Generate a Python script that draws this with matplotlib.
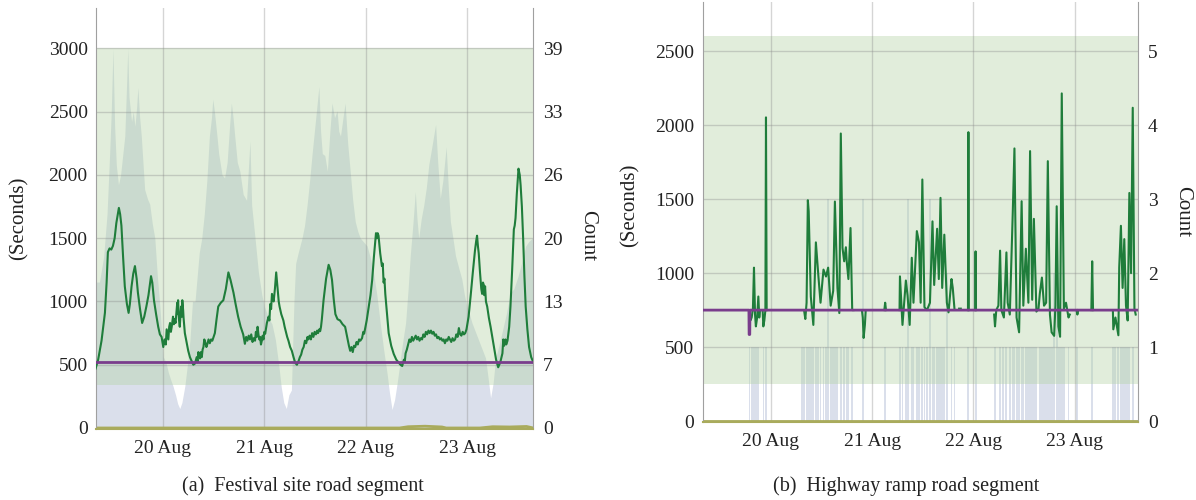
import numpy as np
import matplotlib
matplotlib.use("Agg")
import matplotlib.pyplot as plt

plt.rcParams['font.family'] = ['Liberation Serif', 'DejaVu Serif']

# hours counted from 20 Aug 00:00
day_ticks = [0, 24, 48, 72]
day_labels = ['20 Aug', '21 Aug', '22 Aug', '23 Aug']

# ---- (a) festival site road segment ----
# travel time (seconds), read as (hour, value) pairs
a_line = [(-15.9, 470), (-15.3, 540), (-14.5, 690), (-13.7, 910), (-13.3, 1150), (-13.0, 1390),
          (-12.6, 1420), (-12.2, 1410), (-11.8, 1440), (-11.4, 1500), (-11.0, 1620), (-10.6, 1700),
          (-10.4, 1740), (-10.1, 1690), (-9.8, 1600), (-9.4, 1350), (-9.0, 1120), (-8.5, 980),
          (-8.1, 910), (-7.8, 980), (-7.4, 1120), (-7.0, 1220), (-6.6, 1280), (-6.2, 1180),
          (-5.9, 1070), (-5.4, 940), (-4.9, 830), (-4.4, 880), (-3.9, 960), (-3.4, 1050),
          (-2.8, 1200), (-2.5, 1150), (-2.1, 1010), (-1.6, 900), (-1.1, 800), (-0.7, 740),
          (-0.3, 720), (0.1, 640), (0.4, 700), (0.7, 660), (0.9, 780), (1.1, 740), (1.3, 700),
          (1.5, 800), (1.7, 830), (1.9, 760), (2.1, 800), (2.4, 880), (2.6, 820), (2.8, 860),
          (3.0, 830), (3.2, 910), (3.4, 990), (3.5, 900), (3.6, 1010), (3.8, 860), (4.0, 800),
          (4.2, 900), (4.3, 960), (4.5, 880), (4.6, 1010), (4.8, 930), (4.9, 870), (5.2, 750),
          (5.6, 680), (6.0, 610), (6.4, 560), (6.8, 530), (7.2, 500), (7.6, 510), (8.0, 560),
          (8.2, 520), (8.4, 600), (8.6, 570), (8.8, 550), (9.0, 600), (9.2, 560), (9.4, 620),
          (9.6, 640), (9.8, 700), (10.0, 680), (10.3, 640), (10.5, 660), (10.8, 700), (11.1, 670),
          (11.4, 700), (11.7, 690), (12.0, 720), (12.3, 750), (12.7, 860), (13.1, 960),
          (13.7, 990), (14.3, 1010), (14.9, 1100), (15.5, 1230), (16.0, 1170), (16.7, 1070),
          (17.2, 980), (17.8, 880), (18.4, 800), (19.0, 740), (19.4, 665), (19.7, 720),
          (20.0, 690), (20.3, 730), (20.6, 700), (20.9, 740), (21.2, 680), (21.5, 710),
          (21.8, 690), (22.0, 760), (22.2, 720), (22.4, 800), (22.6, 740), (22.8, 700),
          (23.0, 720), (23.2, 660), (23.4, 690), (23.6, 730), (23.8, 700), (24.0, 760),
          (24.2, 745), (24.6, 830), (25.0, 880), (25.2, 850), (25.4, 980), (25.6, 940),
          (25.8, 1060), (26.0, 1020), (26.2, 1000), (26.5, 1100), (26.8, 1230), (27.0, 1150),
          (27.2, 1080), (27.4, 1000), (27.6, 960), (27.8, 930), (28.0, 900), (28.2, 880),
          (28.5, 850), (28.8, 800), (29.1, 760), (29.4, 720), (29.7, 690), (30.1, 640),
          (30.5, 610), (30.9, 560), (31.3, 515), (31.7, 500), (32.1, 530), (32.4, 560),
          (32.7, 580), (33.0, 620), (33.3, 640), (33.6, 690), (33.9, 670), (34.2, 720),
          (34.4, 700), (34.7, 730), (35.0, 700), (35.3, 750), (35.6, 720), (35.9, 760),
          (36.2, 740), (36.5, 770), (36.7, 750), (37.0, 780), (37.2, 765), (37.4, 800),
          (37.6, 860), (38.0, 1010), (38.6, 1180), (39.2, 1290), (39.6, 1250), (40.0, 1170),
          (40.4, 1020), (40.8, 900), (41.3, 860), (41.9, 850), (42.5, 820), (43.1, 800),
          (43.7, 700), (44.0, 650), (44.3, 610), (44.6, 640), (44.9, 600), (45.2, 650),
          (45.5, 640), (45.8, 680), (46.1, 660), (46.4, 700), (46.7, 690), (47.1, 710),
          (47.4, 760), (47.6, 745), (48.2, 850), (48.7, 960), (49.1, 1050), (49.5, 1170),
          (49.9, 1350), (50.2, 1470), (50.4, 1540), (50.6, 1500), (50.8, 1540), (51.0, 1520),
          (51.2, 1450), (51.4, 1380), (51.8, 1280), (52.0, 1300), (52.2, 1150), (52.4, 1180),
          (52.6, 1060), (53.0, 900), (53.4, 750), (54.0, 650), (54.6, 585), (55.2, 540),
          (55.8, 515), (56.2, 500), (56.6, 490), (57.0, 540), (57.2, 520), (57.4, 590),
          (57.7, 620), (58.0, 660), (58.3, 700), (58.6, 680), (58.9, 720), (59.2, 690),
          (59.5, 710), (59.8, 730), (60.1, 700), (60.4, 720), (60.7, 690), (61.0, 710),
          (61.3, 700), (61.6, 740), (61.9, 720), (62.2, 760), (62.5, 740), (62.8, 770),
          (63.1, 750), (63.4, 770), (63.7, 745), (64.0, 760), (64.3, 730), (64.6, 740),
          (64.9, 710), (65.2, 720), (65.5, 700), (65.8, 710), (66.1, 690), (66.4, 700),
          (66.7, 670), (67.0, 700), (67.3, 690), (67.6, 720), (67.9, 700), (68.2, 680),
          (68.5, 710), (68.8, 690), (69.1, 700), (69.4, 740), (69.7, 720), (70.0, 790),
          (70.3, 740), (70.6, 730), (70.9, 760), (71.2, 740), (71.5, 750), (71.8, 780),
          (72.3, 880), (72.8, 1050), (73.3, 1230), (73.8, 1400), (74.1, 1480), (74.3, 1520),
          (74.5, 1440), (74.7, 1380), (75.0, 1230), (75.2, 1150), (75.3, 1100), (75.5, 1060),
          (75.7, 1150), (75.9, 1130), (76.0, 1050), (76.2, 1120), (76.4, 1000), (76.7, 960),
          (77.1, 870), (77.5, 800), (77.9, 720), (78.3, 640), (78.8, 540), (79.3, 480),
          (79.8, 520), (80.1, 560), (80.3, 590), (80.5, 700), (80.7, 650), (81.0, 700),
          (81.2, 660), (81.5, 690), (81.9, 800), (82.2, 960), (82.6, 1250), (83.0, 1570),
          (83.2, 1600), (83.4, 1660), (83.7, 1850), (84.1, 2050), (84.4, 2000), (84.6, 1920),
          (84.9, 1750), (85.2, 1500), (85.5, 1200), (85.8, 960), (86.2, 780), (86.6, 640),
          (87.1, 560), (87.6, 520)]
a_hours = [p[0] for p in a_line]
a_seconds = [p[1] for p in a_line]

# vehicle count (right axis), read as (hour, count) pairs
a_count = [(-16.0, 15.0), (-15.0, 15.0), (-14.0, 17.6), (-13.2, 22.0), (-12.6, 28.0), (-12.2, 32.5),
           (-11.8, 39.0), (-11.4, 31.0), (-11.0, 27.0), (-10.5, 25.0), (-10.0, 26.0), (-9.5, 28.0),
           (-9.0, 30.0), (-8.6, 35.0), (-8.3, 39.0), (-8.0, 34.0), (-7.4, 31.5), (-7.0, 32.5),
           (-6.6, 31.0), (-6.2, 33.0), (-5.9, 35.0), (-5.5, 32.0), (-5.1, 30.0), (-4.3, 24.5),
           (-3.6, 23.5), (-3.1, 23.0), (-2.5, 21.0), (-1.9, 19.5), (-1.3, 15.6), (-0.7, 12.5),
           (0.1, 7.3), (0.7, 6.8), (1.3, 5.7), (1.9, 4.9), (2.4, 4.3), (3.0, 3.4), (3.5, 2.5),
           (4.0, 2.0), (4.5, 2.6), (5.2, 4.3), (5.8, 6.5), (6.4, 9.0), (7.0, 13.0), (7.6, 13.0),
           (8.0, 15.0), (8.6, 18.0), (9.2, 19.5), (9.8, 22.0), (10.4, 25.4), (11.0, 30.0),
           (11.5, 31.9), (11.8, 33.8), (12.2, 32.5), (12.8, 30.0), (13.2, 28.2), (14.0, 26.0),
           (14.6, 25.7), (15.2, 27.3), (15.8, 31.2), (16.2, 33.4), (16.6, 31.9), (17.0, 30.0),
           (17.6, 27.3), (18.2, 26.4), (19.0, 24.0), (19.8, 23.4), (20.6, 29.5), (21.0, 22.9),
           (21.8, 19.5), (22.6, 16.0), (23.4, 13.7), (24.0, 12.5), (25.0, 11.3), (25.8, 10.7),
           (26.6, 9.1), (27.4, 6.5), (28.0, 4.2), (28.6, 2.6), (29.2, 2.0), (29.8, 3.4),
           (30.4, 3.9), (31.0, 13.0), (31.4, 16.9), (32.0, 18.0), (32.9, 19.5), (33.5, 20.8),
           (34.1, 22.9), (34.7, 25.4), (35.3, 28.2), (36.0, 31.2), (36.9, 35.1), (37.3, 30.5),
           (37.7, 28.2), (38.3, 28.0), (38.9, 26.4), (39.5, 30.5), (40.0, 33.4), (40.6, 31.9),
           (41.2, 32.6), (41.6, 30.5), (42.0, 30.0), (42.6, 31.9), (43.1, 33.4), (43.7, 29.3),
           (44.3, 26.4), (44.9, 23.4), (45.5, 21.2), (46.1, 20.2), (46.7, 19.5), (47.5, 19.1),
           (48.3, 18.7), (49.0, 17.6), (49.8, 16.0), (50.6, 13.7), (51.4, 10.8), (52.2, 8.1),
           (53.0, 5.7), (53.6, 3.6), (54.2, 1.9), (54.8, 2.9), (55.4, 4.6), (56.0, 6.5),
           (56.6, 8.5), (57.4, 10.8), (58.0, 14.3), (58.5, 17.7), (59.1, 20.8), (59.7, 24.3),
           (60.1, 21.5), (60.5, 19.5), (61.1, 21.5), (61.7, 22.9), (62.3, 24.7), (62.9, 27.1),
           (63.5, 28.6), (64.0, 29.9), (64.5, 31.2), (65.0, 27.3), (65.6, 23.6), (66.2, 25.4),
           (67.0, 28.9), (67.5, 24.7), (68.0, 21.2), (68.6, 19.5), (69.2, 17.7), (70.0, 16.4),
           (70.7, 15.3), (71.3, 13.7), (71.9, 12.5), (72.5, 11.7), (73.1, 10.8), (73.9, 9.9),
           (74.7, 9.0), (75.5, 8.1), (76.3, 7.2), (76.9, 5.2), (77.5, 3.1), (78.1, 4.6),
           (78.7, 7.2), (79.5, 8.5), (80.3, 10.0), (81.2, 11.7), (82.2, 13.9), (83.0, 14.3),
           (84.0, 15.6), (84.8, 16.9), (85.8, 18.7), (86.6, 19.2), (87.4, 19.5), (88.0, 19.5)]
a_count_hours = [p[0] for p in a_count]
a_counts = [p[1] for p in a_count]

a_median_hours = [-15.8, 87.6]
a_median = [525, 525]
a_low_hours = [-15.8, 56.0, 58.0, 62.0, 66.0, 67.0, 75.0, 78.0, 82.0, 86.0, 87.6]
a_low = [0, 0, 10, 14, 8, 0, 0, 10, 8, 12, 0]

a_right_ticks = [0, 6.5, 13, 19.5, 26, 32.5, 39]
a_right_labels = ['0', '7', '13', '20', '26', '33', '39']

# ---- (b) highway ramp road segment ----
nan = None
b_hours = [-5.05, -4.8, -4.5, -4.2, -3.95, -3.7, -3.5, -3.2, -2.92, -2.7, -2.53, nan,
           -1.9, -1.74, -1.5, -1.25, -1.11, -0.95, nan,
           7.9, 8.2, 8.5, 8.8, 9.0, 9.5, 10.1, 10.7, 11.3, 11.8, 12.5, 13.1, 13.6, 14.2, 14.8,
           15.2, 15.8, 16.25, 16.6, 17.0, 17.4, 17.8, 18.0, 18.4, 18.9, 19.3, 19.6, nan,
           21.6, 21.8, 22.0, 22.3, 22.5, nan, 26.9, 27.1, 27.3, nan,
           30.5, 30.6, 31.2, 32.0, 32.4, 32.9, 33.4, 33.8, 34.6, 35.1, 35.5, 35.9, 36.4, 37.0,
           37.7, 38.3, 38.7, 39.4, 39.8, 40.2, 40.6, 41.1, 41.7, 42.1, 42.8, 43.1, 43.5, nan,
           44.6, 45.0, nan, 46.7, 46.8, 46.9, nan, 48.4, 48.5, 48.6, nan,
           52.9, 53.1, 53.4, 53.9, 54.3, 54.6, 55.2, 55.8, 56.1, 56.6, 57.3, 57.7, 58.2, 58.8,
           59.4, 59.8, 60.4, 61.0, 61.4, 61.9, 62.3, 62.9, 63.4, 63.7, 64.2, 64.7, 65.2, 65.6,
           66.1, 66.5, 67.1, 67.4, 67.7, 68.1, 68.5, 68.9, 69.4, 69.9, 70.5, 70.8, nan,
           72.4, 72.6, 72.8, nan, 75.9, 76.1, 76.3, nan,
           81.0, 81.1, 81.6, 82.3, 82.5, 82.9, 83.3, 83.7, 84.1, 84.5, 84.9, 85.3, 85.7, 86.1, 86.4]
b_seconds = [750, 680, 700, 760, 1037, 720, 640, 700, 842, 700, 750, nan,
             750, 640, 680, 750, 2053, 750, nan,
             750, 690, 800, 1493, 1418, 842, 650, 1208, 978, 800, 1024, 977, 1037, 780, 880,
             1484, 900, 730, 1944, 1170, 1080, 1175, 1080, 960, 1305, 750, 750, nan,
             750, 700, 562, 650, 750, nan, 750, 800, 750, nan,
             750, 978, 650, 950, 850, 650, 1104, 800, 1284, 1210, 800, 1633, 770, 750,
             800, 1350, 920, 1300, 960, 1509, 900, 1260, 800, 735, 960, 900, 760, nan,
             760, 760, nan, 750, 1953, 750, nan, 750, 1147, 750, nan,
             720, 640, 750, 780, 1152, 750, 700, 1140, 800, 720, 1407, 1843, 700, 600,
             1486, 780, 1165, 800, 1825, 820, 1367, 740, 760, 860, 970, 780, 800, 1757,
             720, 600, 576, 780, 1452, 640, 570, 2215, 760, 800, 700, 720, nan,
             750, 720, 750, nan, 750, 1080, 750, nan,
             750, 620, 700, 580, 1040, 1320, 900, 1230, 780, 680, 1542, 1000, 2118, 760, 720]

b_count_hours = [-5.0, -4.5, -3.9, -3.4, -2.9, -1.7, -1.1, 7.4, 7.9, 8.5, 9.0, 9.5, 10.1, 10.7,
                 11.3, 11.8, 12.5, 13.1, 13.6, 14.2, 14.8, 15.2, 15.8, 16.6, 17.4, 18.0, 18.4, 19.3,
                 21.9, 27.1, 30.6, 31.2, 32.0, 32.4, 33.4, 33.8, 34.6, 35.1, 35.9, 36.4, 37.0, 37.7,
                 38.3, 38.7, 39.4, 39.8, 40.2, 40.6, 41.1, 41.7, 42.8, 43.5, 46.8, 48.5, 53.1, 54.3,
                 55.0, 55.8, 56.6, 57.3, 57.7, 58.2, 58.8, 59.4, 59.8, 60.4, 61.0, 61.4, 61.9, 62.3,
                 62.9, 63.7, 64.2, 64.7, 65.2, 65.6, 66.1, 66.5, 67.1, 67.7, 68.1, 68.5, 68.9, 69.4,
                 70.5, 72.6, 76.1, 81.1, 81.6, 82.3, 82.9, 83.3, 83.7, 84.1, 84.5, 84.9, 85.7]
b_counts = [1, 1, 1, 1, 1, 1, 1, 1, 1, 1, 1, 1, 1, 1,
            1, 1, 1, 1, 3, 1, 1, 1, 1, 1, 1, 1, 1, 1,
            3, 1, 1, 1, 1, 3, 1, 1, 1, 1, 1, 1, 1, 3,
            1, 1, 1, 1, 1, 1, 1, 2, 1, 1, 1, 1, 1, 1,
            1, 1, 1, 1, 1, 1, 1, 1, 1, 1, 1, 1, 1, 1,
            1, 1, 1, 1, 1, 1, 1, 1, 2, 2, 1, 1, 1, 1,
            1, 1, 1, 1, 1, 1, 1, 1, 1, 1, 1, 1, 1]

b_median_hours = [-16.1, -5.15, -5.1, -4.95, -4.9, 87.0]
b_median = [750, 750, 585, 585, 750, 750]
b_low_hours = [-16.1, 87.0]
b_low = [0, 0]

b_right_ticks = [0, 1, 2, 3, 4, 5]
b_right_labels = ['0', '1', '2', '3', '4', '5']

GREEN = '#1f7d3b'
PURPLE = '#7a3d8c'
OLIVE = '#a9ab5c'
LAVENDER = '#dadfeb'
BAND = '#b4d4a5'
TEXT = '#222222'


def draw_panel(fig, rect, xlim, ylim, band, factor, left_ticks, right_ticks, right_labels,
               hours, secs, c_hours, counts, med_h, med, low_h, low, bars, caption, cap_x,
               sec_lab, cnt_lab):
    ax = fig.add_axes(rect)
    ax2 = ax.twinx()
    ax.set_zorder(ax2.get_zorder() + 1)
    ax.patch.set_visible(False)

    # count series on the right axis, behind everything
    if bars:
        ax2.bar(c_hours, counts, width=0.45, color=LAVENDER, lw=0)
    else:
        ax2.fill_between(c_hours, 0, counts, color=LAVENDER, lw=0)
    ax2.set_ylim(ylim[0] * factor, ylim[1] * factor)
    ax2.set_yticks(right_ticks)
    ax2.set_yticklabels(right_labels)
    ax2.set_ylabel('Count', fontsize=15, rotation=270, va='center', color=TEXT)
    ax2.yaxis.set_label_coords(*cnt_lab)
    for s in ax2.spines.values():
        s.set_visible(False)
    ax2.tick_params(length=0, labelsize=14, pad=7, colors=TEXT)

    ax.axhspan(band[0], band[1], color=BAND, alpha=0.4, lw=0, zorder=0.3)
    ax.plot(low_h, low, color=OLIVE, lw=2, zorder=2.5)
    y = np.array(secs, dtype=float)
    ax.plot(hours, y, color=GREEN, lw=1.5, zorder=3)
    ax.plot(med_h, med, color=PURPLE, lw=2, zorder=4)

    ax.set_xlim(*xlim)
    ax.set_ylim(*ylim)
    ax.set_xticks(day_ticks)
    ax.set_xticklabels(day_labels)
    ax.set_yticks(left_ticks)
    ax.set_axisbelow(True)
    ax.grid(True, color='#888888', alpha=0.35, lw=1)
    ax.tick_params(length=0, labelsize=14, colors=TEXT)
    ax.tick_params(axis='y', pad=6)
    ax.tick_params(axis='x', pad=8)
    ax.set_ylabel('(Seconds)', fontsize=15, color=TEXT)
    ax.yaxis.set_label_coords(*sec_lab)
    ax.spines['top'].set_visible(False)
    ax.spines['left'].set_color('#a0a0a0')
    ax.spines['right'].set_color('#a0a0a0')
    ax.spines['bottom'].set_color(OLIVE)
    ax.spines['bottom'].set_linewidth(1.5)

    fig.text(cap_x, 0.028, caption, fontsize=14.5, ha='center', va='center', color=TEXT)
    return ax


fig = plt.figure(figsize=(11.96, 5), dpi=100)

draw_panel(fig, [0.0803, 0.142, 0.3656, 0.842], (-15.8, 87.6), (-8, 3320), (340, 3000), 0.013,
           [0, 500, 1000, 1500, 2000, 2500, 3000], a_right_ticks, a_right_labels,
           a_hours, a_seconds, a_count_hours, a_counts, a_median_hours, a_median,
           a_low_hours, a_low, False, '(a)  Festival site road segment', 0.253,
           (-0.155, 0.5), (1.125, 0.46))

draw_panel(fig, [0.5875, 0.157, 0.3642, 0.839], (-16.1, 87.0), (-3, 2833), (250, 2600), 1 / 500,
           [0, 500, 1000, 1500, 2000, 2500], b_right_ticks, b_right_labels,
           b_hours, b_seconds, b_count_hours, b_counts, b_median_hours, b_median,
           b_low_hours, b_low, True, '(b)  Highway ramp road segment', 0.758,
           (-0.145, 0.516), (1.103, 0.5))

fig.savefig('out.png', dpi=100)
